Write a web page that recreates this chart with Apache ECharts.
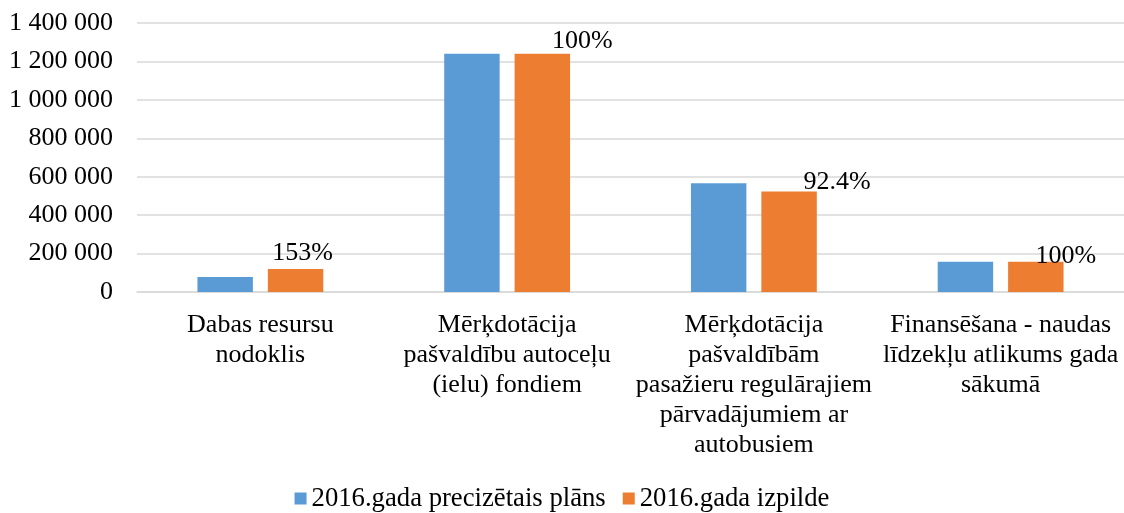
<!DOCTYPE html>
<html>
<head>
<meta charset="utf-8">
<script src="https://cdn.jsdelivr.net/npm/echarts@6/dist/echarts.min.js"></script>
<style>
  html, body { margin: 0; padding: 0; background: #fff; }
  #main { width: 1124px; height: 513px; }
</style>
</head>
<body>
<div id="main"></div>
<script>
// kategorijas (ar rindu pārnesumiem kā oriģinālā)
const categories = [
  "Dabas resursu\nnodoklis",
  "Mērķdotācija\npašvaldību autoceļu\n(ielu) fondiem",
  "Mērķdotācija\npašvaldībām\npasažieru regulārajiem\npārvadājumiem ar\nautobusiem",
  "Finansēšana - naudas\nlīdzekļu atlikums gada\nsākumā"
];
const seriesNames = ["2016.gada precizētais plāns", "2016.gada izpilde"];
const planValues = [78000, 1240000, 566000, 158000];
const doneValues = [120000, 1240000, 523000, 158000];
const percentLabels = ["153%", "100%", "92.4%", "100%"];
const yTicks = [0, 200000, 400000, 600000, 800000, 1000000, 1200000, 1400000];

const font = "'Liberation Serif', 'Times New Roman', serif";

// procentu uzrakstu novietojums (kā Excel attēlā, pabīdīti pa labi)
const labelShift = [[7, 2], [40, 5], [48, 9], [30, 13]];

function fmt(v) {
  return String(v).replace(/\B(?=(\d{3})+(?!\d))/g, " ");
}

let myChart = echarts.init(document.getElementById("main"));

let option = {
  animation: false,
  backgroundColor: "#fff",
  textStyle: { fontFamily: font, color: "#000" },
  grid: { left: 137, right: 0, top: 23, bottom: 221, containLabel: false },
  legend: {
    data: seriesNames,
    top: 480,
    left: "center",
    itemWidth: 12,
    itemHeight: 12,
    itemGap: 17,
    icon: "rect",
    textStyle: { fontFamily: font, fontSize: 26.7, color: "#000" }
  },
  xAxis: {
    type: "category",
    data: categories,
    axisLine: { lineStyle: { color: "#d9d9d9", width: 1.5 } },
    axisTick: { show: false },
    axisLabel: {
      interval: 0,
      margin: 18,
      fontFamily: font,
      fontSize: 26,
      lineHeight: 30,
      color: "#000"
    }
  },
  yAxis: {
    type: "value",
    min: yTicks[0],
    max: yTicks[yTicks.length - 1],
    interval: yTicks[1] - yTicks[0],
    axisLine: { show: false },
    axisTick: { show: false },
    splitLine: { lineStyle: { color: "#d9d9d9", width: 1.5 } },
    axisLabel: {
      margin: 24,
      fontFamily: font,
      fontSize: 26,
      color: "#000",
      formatter: fmt
    }
  },
  series: [
    {
      name: seriesNames[0],
      type: "bar",
      data: planValues,
      barGap: "27%",
      barCategoryGap: "49%",
      itemStyle: { color: "#5b9bd5" }
    },
    {
      name: seriesNames[1],
      type: "bar",
      data: doneValues.map((v, i) => ({
        value: v,
        label: {
          show: true,
          position: "top",
          offset: labelShift[i],
          formatter: percentLabels[i]
        }
      })),
      itemStyle: { color: "#ed7d31" },
      label: { fontFamily: font, fontSize: 26, color: "#000" }
    }
  ]
};
myChart.setOption(option);
</script>
</body>
</html>
